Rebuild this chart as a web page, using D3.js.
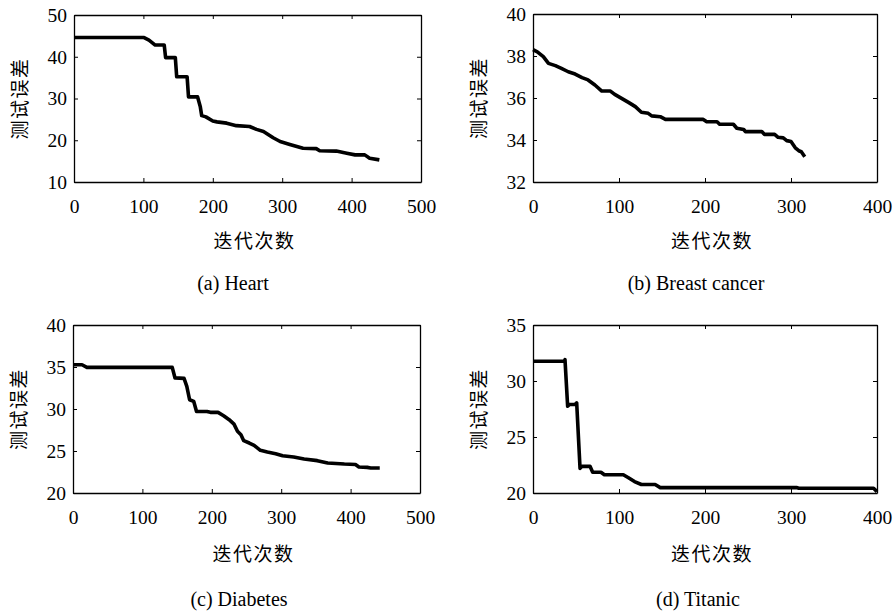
<!DOCTYPE html>
<html>
<head>
<meta charset="utf-8">
<script src="https://cdnjs.cloudflare.com/ajax/libs/d3/7.8.5/d3.min.js"></script>
<style>
  body { margin: 0; background: #fff; }
  text { fill: #000; }
</style>
</head>
<body>
<script>
// test error vs. iteration
var heart = [[0,44.6],[101,44.6],[108,44],[117,42.8],[130,42.8],[132,39.8],[146,39.8],[148,35.2],
  [163,35.2],[165,30.4],[178,30.4],[182,28],[184,25.9],[190,25.6],[200,24.6],[206,24.4],[220,24.1],
  [234,23.5],[253,23.3],[263,22.6],[273,22.1],[287,20.6],[297,19.7],[311,19],[330,18.1],[349,18],
  [354,17.5],[378,17.4],[393,16.9],[405,16.5],[419,16.5],[426,15.7],[440,15.3]];

var breast = [[0,38.3],[5,38.2],[12,37.97],[18,37.65],[26,37.54],[33,37.41],[41,37.25],[49,37.14],
  [57,36.97],[64,36.86],[72,36.62],[80,36.33],[90,36.33],[95,36.17],[103,35.98],[111,35.79],
  [119,35.59],[126,35.32],[134,35.27],[138,35.15],[148,35.11],[154,34.98],[198,34.98],[202,34.87],
  [214,34.87],[217,34.75],[233,34.75],[237,34.56],[245,34.5],[247,34.4],[266,34.4],[269,34.27],
  [281,34.27],[285,34.13],[291,34.1],[295,33.97],[300,33.93],[305,33.63],[309,33.49],[312,33.44],
  [316,33.2]];

var diabetes = [[0,35.27],[13,35.27],[20,34.96],[143,34.96],[147,33.7],[160,33.65],[164,32.7],
  [168,31.1],[174,30.9],[178,29.7],[193,29.7],[198,29.6],[209,29.6],[217,29.2],[225,28.73],
  [232,28.2],[237,27.35],[242,26.94],[246,26.23],[254,25.95],[261,25.67],[270,25.08],[280,24.88],
  [292,24.68],[302,24.44],[318,24.29],[333,24.05],[352,23.85],[367,23.57],[391,23.45],[407,23.4],
  [412,23.1],[424,23.05],[429,22.98],[442,22.98]];

var titanic = [[0,31.76],[36.4,31.76],[37.2,31.9],[40.3,27.74],[42.4,27.9],[48.8,27.9],[50.8,28.04],
  [54.7,22.2],[57,22.38],[66.3,22.38],[69.4,21.85],[79,21.85],[83,21.63],[105,21.63],[111,21.36],
  [118,21.02],[126,20.76],[142,20.76],[148,20.48],[307,20.48],[309,20.42],[396,20.42],[400,20.12]];

var xTicks500 = [0,100,200,300,400,500];
var xTicks400 = [0,100,200,300,400];
var yTicksA = [10,20,30,40,50];
var yTicksB = [32,34,36,38,40];
var yTicksC = [20,25,30,35,40];
var yTicksD = [20,25,30,35];

var captions = ["(a) Heart", "(b) Breast cancer", "(c) Diabetes", "(d) Titanic"];
var yTitle = "测试误差";
var xTitle = "迭代次数";

var W = 896, H = 614;
var serif = "'Liberation Serif','Times New Roman',serif";
var cjk = "'Noto Sans CJK SC','Noto Sans',sans-serif";

var svg = d3.select("body").append("svg")
    .attr("width", W)
    .attr("height", H);

// layout of the four axes boxes
var panels = [
  {data: heart,    xDom: [0,500], yDom: [10,50], xt: xTicks500, yt: yTicksA, x0: 74,  x1: 421, y0: 15,  y1: 182, cap: captions[0], capX: 233, capY: 290, xlY: 239},
  {data: breast,   xDom: [0,400], yDom: [32,40], xt: xTicks400, yt: yTicksB, x0: 533, x1: 877, y0: 14,  y1: 182, cap: captions[1], capX: 696, capY: 290, xlY: 239},
  {data: diabetes, xDom: [0,500], yDom: [20,40], xt: xTicks500, yt: yTicksC, x0: 73,  x1: 420, y0: 325, y1: 493, cap: captions[2], capX: 239, capY: 606, xlY: 552},
  {data: titanic,  xDom: [0,400], yDom: [20,35], xt: xTicks400, yt: yTicksD, x0: 533, x1: 877, y0: 325, y1: 493, cap: captions[3], capX: 698, capY: 606, xlY: 552}
];

panels.forEach(function(p) {
  var x = d3.scaleLinear().domain(p.xDom).range([p.x0, p.x1]);
  var y = d3.scaleLinear().domain(p.yDom).range([p.y1, p.y0]);
  var g = svg.append("g");

  // the curve
  g.append("path")
      .datum(p.data)
      .attr("fill", "none")
      .attr("stroke", "#000")
      .attr("stroke-width", 3.6)
      .attr("stroke-linejoin", "round")
      .attr("d", d3.line()
        .x(function(d) { return x(d[0]); })
        .y(function(d) { return y(d[1]); }));

  // axes: ticks point inwards on all four sides, MATLAB style
  var tk = 4;
  var fmt = d3.format("d");
  var bottom = g.append("g").attr("transform", "translate(0," + p.y1 + ")")
      .call(d3.axisBottom(x).tickValues(p.xt).tickFormat(fmt).tickSizeInner(-tk).tickSizeOuter(0).tickPadding(17));
  var top = g.append("g").attr("transform", "translate(0," + p.y0 + ")")
      .call(d3.axisTop(x).tickValues(p.xt).tickFormat("").tickSizeInner(-tk).tickSizeOuter(0));
  var left = g.append("g").attr("transform", "translate(" + p.x0 + ",0)")
      .call(d3.axisLeft(y).tickValues(p.yt).tickFormat(fmt).tickSizeInner(-tk).tickSizeOuter(0).tickPadding(7));
  var right = g.append("g").attr("transform", "translate(" + p.x1 + ",0)")
      .call(d3.axisRight(y).tickValues(p.yt).tickFormat("").tickSizeInner(-tk).tickSizeOuter(0));

  [bottom, top, left, right].forEach(function(a) {
    a.select(".domain").attr("stroke", "#000").attr("stroke-width", 1.3);
    a.selectAll(".tick line").attr("stroke", "#000").attr("stroke-width", 1);
    a.selectAll("text").attr("font-family", serif).attr("font-size", 19.5).attr("fill", "#000");
  });

  // axis titles
  g.append("text")
      .attr("x", (p.x0 + p.x1) / 2 + 7)
      .attr("y", p.xlY)
      .attr("text-anchor", "middle")
      .attr("dominant-baseline", "central")
      .attr("font-family", cjk)
      .attr("font-size", 19)
      .attr("letter-spacing", 1.5)
      .text(xTitle);

  g.append("text")
      .attr("transform", "translate(" + (p.x0 - 56) + "," + ((p.y0 + p.y1) / 2) + ") rotate(-90)")
      .attr("text-anchor", "middle")
      .attr("dominant-baseline", "central")
      .attr("font-family", cjk)
      .attr("font-size", 19)
      .attr("letter-spacing", 1.5)
      .text(yTitle);

  // caption under each panel
  g.append("text")
      .attr("x", p.capX)
      .attr("y", p.capY)
      .attr("text-anchor", "middle")
      .attr("font-family", serif)
      .attr("font-size", 20)
      .text(p.cap);
});
</script>
</body>
</html>
